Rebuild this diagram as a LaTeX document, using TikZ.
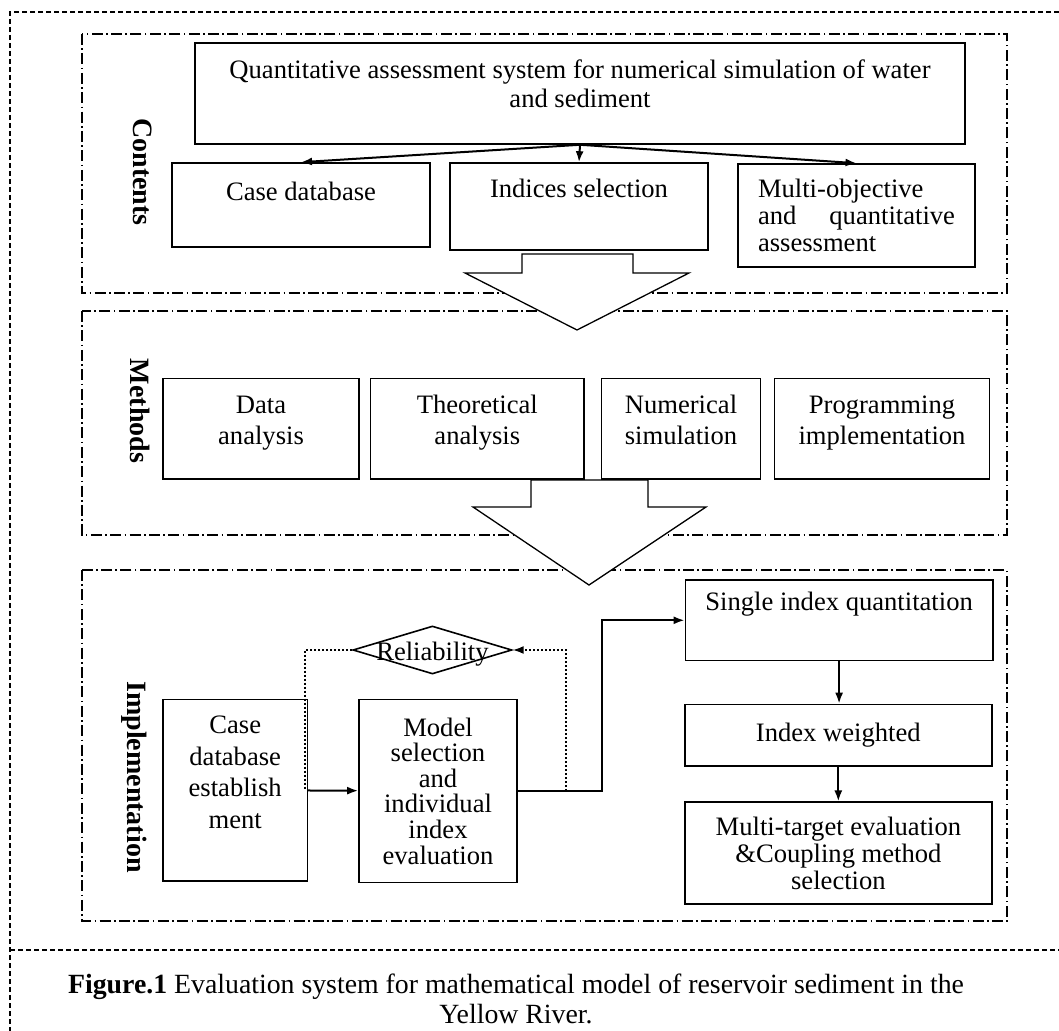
\documentclass[tikz,border=0pt]{standalone}
\usepackage{fontspec}
\setmainfont{Liberation Serif}
\usetikzlibrary{arrows.meta,shapes.geometric}

\begin{document}
\begin{tikzpicture}[
        x=0.5pt, y=-0.5pt,
        every node/.style={font=\fontsize{13.3}{15.5}\selectfont},
        box/.style={draw, line width=0.8pt, fill=white, inner sep=0pt, align=center},
        frame/.style={line width=0.75pt, dash pattern=on 5.5pt off 1.7pt on 0.8pt off 1.7pt},
        border/.style={line width=1.3pt, dash pattern=on 2.6pt off 1.4pt},
        link/.style={line width=1pt, -{Latex[length=5.5pt,width=4pt]}},
        check/.style={line width=0.9pt, dash pattern=on 0.9pt off 1.1pt},
        blockarrow/.style={draw, fill=white, line width=0.65pt, line join=miter},
        side/.style={font=\fontsize{14}{16}\selectfont\bfseries, rotate=-90}
    ]
    \useasboundingbox (0,0) rectangle (1059,1031);

    % --- Outer frame and panels ---
    \draw[border] (1059,12) -- (10,12) -- (10,1031);
    \draw[border] (10,950) -- (1059,950);
    \draw[frame] (82,34) rectangle (1007,293);
    \draw[frame] (82,311) rectangle (1007,535);
    \draw[frame] (82,570) rectangle (1007,921);

    \node[side] (lcontents) at (143,172) {Contents};
    \node[side] (lmethods) at (140,411) {Methods};
    \node[side] (limpl) at (134,777) {Implementation};

    % --- Block arrows between panels ---
    \draw[blockarrow] (522,254) -- (633,254) -- (633,273) -- (689,273) -- (577,330)
        -- (465,273) -- (522,273) -- cycle;
    \draw[blockarrow] (531,480) -- (648,480) -- (648,507) -- (706,507) -- (589,585)
        -- (473,507) -- (531,507) -- cycle;

    % --- Contents ---
    \node[box, minimum width=385pt, minimum height=50.5pt, text height=13.9pt, text depth=0pt,
          font=\fontsize{13.3}{14.4}\selectfont] (system) at (580,93.5)
        {Quantitative assessment system for numerical simulation of water\\and sediment};
    \node[box, minimum width=129pt, minimum height=42pt, text height=9.5pt, text depth=13.5pt] (casedb) at (301,205) {Case database};
    \node[box, minimum width=129pt, minimum height=43.5pt, text height=9.5pt, text depth=18.3pt] (indices) at (579,206.5) {Indices selection};
    \node[box, minimum width=118.5pt, minimum height=51.5pt, text width=98.5pt, align=left,
          font=\fontsize{13.3}{13.5}\selectfont] (multiobj) at (856.5,215.5)
        {Multi-objective\\and\hfill quantitative\\assessment};

    \draw[link] (system.south) -- (casedb.north);
    \draw[link] (system.south) -- (indices.north);
    \draw[link] (system.south) -- (multiobj.north);

    % --- Methods ---
    \node[box, minimum width=98pt, minimum height=50.25pt, text height=15.85pt, text depth=0pt] (data) at (261,428.75) {Data\\analysis};
    \node[box, minimum width=106.7pt, minimum height=50.25pt, text height=15.85pt, text depth=0pt] (theory) at (477.3,428.75) {Theoretical\\analysis};
    \node[box, minimum width=79.4pt, minimum height=50.25pt, text height=15.85pt, text depth=0pt] (numsim) at (681,428.75) {Numerical\\simulation};
    \node[box, minimum width=107.5pt, minimum height=50.25pt, text height=15.85pt, text depth=0pt] (program) at (882,428.75) {Programming\\implementation};

    % --- Implementation ---
    \node[box, minimum width=72.2pt, minimum height=90.75pt, text height=37.8pt, text depth=0pt,
          font=\fontsize{13.3}{15.75}\selectfont] (establish) at (235.2,790.2) {Case\\database\\establish\\ment};
    \node[box, minimum width=79pt, minimum height=91.5pt,
          font=\fontsize{13.3}{12.8}\selectfont] (model) at (438,791)
        {Model\\selection\\and\\individual\\index\\evaluation};
    \node[box, shape=diamond, minimum width=79.5pt, minimum height=24pt,
          text height=10.9pt, text depth=0pt] (reliab) at (432.4,650) {\makebox[0pt]{Reliability}};
    \node[box, minimum width=153.7pt, minimum height=40.3pt, text height=9.5pt, text depth=19.6pt] (single) at (839.1,620.3) {Single index quantitation};
    \node[box, minimum width=153.5pt, minimum height=30.6pt] (weighted) at (838.3,735.1) {Index weighted};
    \node[box, minimum width=153.65pt, minimum height=50.75pt,
          font=\fontsize{13.3}{13.5}\selectfont] (multitgt) at (838.4,853)
        {Multi-target evaluation\\\&Coupling method\\selection};

    \draw[link] (establish) -- (model);
    \draw[link] (model.east) -- ++(84,0) |- (single.west);
    \draw[link] (single.south) -- (single.south |- weighted.north);
    \draw[link] (weighted.south) -- (weighted.south |- multitgt.north);

    % reliability check loop
    \draw[check, -{Latex[length=5.5pt,width=4pt]}] ([xshift=23.9pt]model.east) |- (reliab.east);
    \draw[check] (reliab.west) -| ([xshift=-1.7pt]establish.east);

    % --- Caption ---
    \node[align=center, font=\fontsize{13.9}{15}\selectfont] (caption) at (516,998.5)
        {\textbf{Figure.1} Evaluation system for mathematical model of reservoir sediment in the\\Yellow River.};

\end{tikzpicture}
\end{document}
